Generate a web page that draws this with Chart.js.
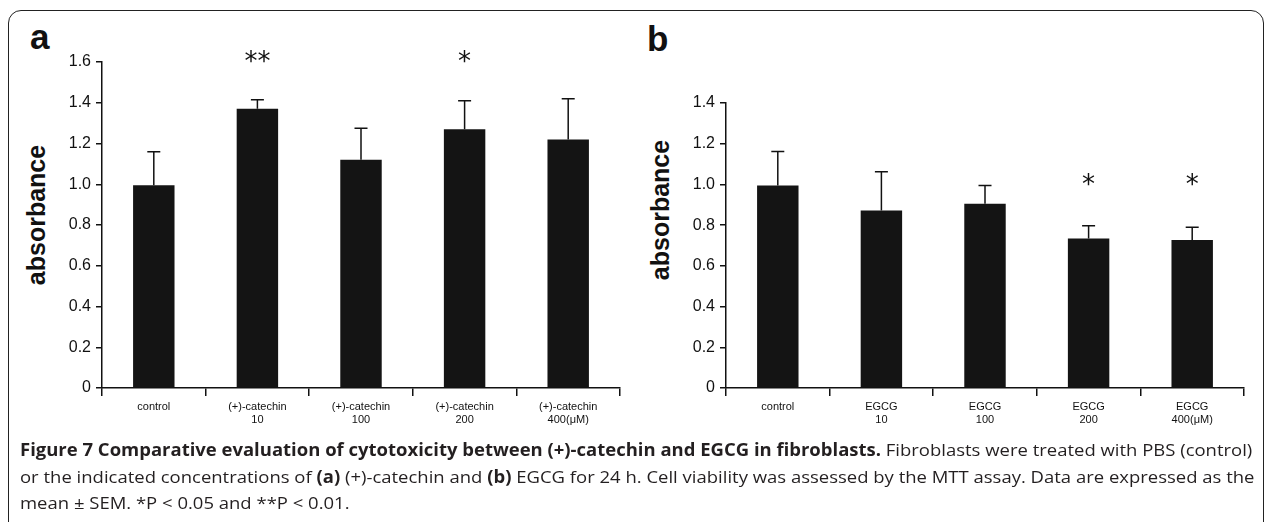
<!DOCTYPE html>
<html lang="en">
<head>
  <meta charset="UTF-8" />
  <title>Figure 7</title>
  <script src="https://cdn.jsdelivr.net/npm/chart.js@4.4.1/dist/chart.umd.min.js"></script>
  <style>
    body { margin: 0; background: #fff; width: 1265px; height: 522px; overflow: hidden; position: relative; }
    .frame {
      position: absolute; left: 8px; top: 10px; width: 1256px; height: 560px;
      border: 1.5px solid #222; border-radius: 13px; box-sizing: border-box;
    }
    .panel { position: absolute; top: 0; height: 440px; }
    #panel-a { left: 0; width: 632px; }
    #panel-b { left: 630px; width: 635px; }
    .letter {
      position: absolute; font: bold 35px "Liberation Sans", Arial, sans-serif; color: #111;
    }
    .ytitle {
      position: absolute; font: bold 25px "Liberation Sans", Arial, sans-serif; color: #111;
      transform: rotate(-90deg); transform-origin: center; white-space: nowrap;
      width: 160px; text-align: center; height: 30px; line-height: 30px;
    }
    .caption {
      position: absolute; left: 20px; top: 437px; font-family: "Open Sans", sans-serif;
      font-size: 17px; line-height: 26.5px; color: #231f20; white-space: nowrap;
    }
    .caption div { transform-origin: left center; }
    .caption b { font-weight: bold; }
  </style>
</head>
<body>
  <div class="frame"></div>
  <div class="letter" style="left:30px; top:17px;">a</div>
  <div class="letter" style="left:647px; top:19px;">b</div>
  <div class="ytitle" style="left:-44px; top:200px;">absorbance</div>
  <div class="ytitle" style="left:580px; top:195px;">absorbance</div>

  <div class="panel" id="panel-a"><canvas id="chart-a"></canvas></div>
  <div class="panel" id="panel-b"><canvas id="chart-b"></canvas></div>

  <div class="caption" id="caption">
    <div><b>Figure 7 Comparative evaluation of cytotoxicity between (+)-catechin and EGCG in fibroblasts.</b> Fibroblasts were treated with PBS (control)</div>
    <div>or the indicated concentrations of <b>(a)</b> (+)-catechin and <b>(b)</b> EGCG for 24 h. Cell viability was assessed by the MTT assay. Data are expressed as the</div>
    <div>mean ± SEM. *P &lt; 0.05 and **P &lt; 0.01.</div>
  </div>

  <script>
    // panel a: (+)-catechin
    var labelsA = [["control"], ["(+)-catechin", "10"], ["(+)-catechin", "100"], ["(+)-catechin", "200"], ["(+)-catechin", "400(μM)"]];
    var meansA = [0.995, 1.37, 1.12, 1.27, 1.22];
    var semA = [0.165, 0.045, 0.155, 0.14, 0.20];
    var starsA = ["", "**", "", "*", ""];
    var starLevelA = 1.625;

    // panel b: EGCG
    var labelsB = [["control"], ["EGCG", "10"], ["EGCG", "100"], ["EGCG", "200"], ["EGCG", "400(μM)"]];
    var meansB = [0.995, 0.872, 0.905, 0.735, 0.727];
    var semB = [0.167, 0.19, 0.09, 0.062, 0.063];
    var starsB = ["", "", "", "*", "*"];
    var starLevelB = 1.02;

    // one-sided error bars plus significance stars, drawn through the scales
    var extrasPlugin = {
      id: "extras",
      afterDatasetsDraw: function (chart, args, opts) {
        var ctx = chart.ctx;
        var x = chart.scales.x, y = chart.scales.y;
        ctx.save();
        ctx.strokeStyle = "#111";
        ctx.lineWidth = 1.5;
        opts.means.forEach(function (m, i) {
          var px = x.getPixelForValue(i);
          var top = y.getPixelForValue(m);
          var end = y.getPixelForValue(m + opts.sem[i]);
          ctx.beginPath();
          ctx.moveTo(px, top);
          ctx.lineTo(px, end);
          ctx.moveTo(px - 6.5, end);
          ctx.lineTo(px + 6.5, end);
          ctx.stroke();
        });
        ctx.fillStyle = "#111";
        ctx.font = "26px 'DejaVu Sans'";
        ctx.textAlign = "center";
        ctx.textBaseline = "middle";
        opts.stars.forEach(function (s, i) {
          if (!s) return;
          ctx.fillText(s, x.getPixelForValue(i), y.getPixelForValue(opts.starLevel) + 6);
        });
        ctx.restore();
      }
    };

    function makeChart(id, labels, means, sem, stars, starLevel, yMax, pad, yWidth) {
      var ctx = document.getElementById(id).getContext("2d");
      return new Chart(ctx, {
        type: "bar",
        data: {
          labels: labels,
          datasets: [{
            data: means,
            backgroundColor: "#141414",
            borderWidth: 0,
            barPercentage: 0.4,
            categoryPercentage: 1.0
          }]
        },
        options: {
          responsive: true,
          maintainAspectRatio: false,
          animation: false,
          layout: { padding: pad },
          plugins: {
            legend: { display: false },
            tooltip: { enabled: false },
            extras: { means: means, sem: sem, stars: stars, starLevel: starLevel }
          },
          scales: {
            x: {
              offset: true,
              grid: { offset: true, drawOnChartArea: false, drawTicks: true, tickLength: 8, color: "#111", lineWidth: 1.5 },
              border: { color: "#111", width: 1.5 },
              ticks: { color: "#111", font: { family: "'Liberation Sans', Arial", size: 11 }, padding: 4, maxRotation: 0, autoSkip: false },
              afterFit: function (s) { s.height = 52; }
            },
            y: {
              min: 0,
              max: yMax,
              grid: { drawOnChartArea: false, drawTicks: true, tickLength: 6, color: "#111", lineWidth: 1.5 },
              border: { color: "#111", width: 1.5 },
              ticks: {
                stepSize: 0.2,
                color: "#111",
                padding: 5,
                font: { family: "'Liberation Sans', Arial", size: 16 },
                callback: function (v) { return v === 0 ? "0" : v.toFixed(1); }
              },
              afterFit: function (s) { s.width = yWidth; }
            }
          }
        },
        plugins: [extrasPlugin]
      });
    }

    makeChart("chart-a", labelsA, meansA, semA, starsA, starLevelA, 1.6, { left: 0, right: 12, top: 62, bottom: 0 }, 102);
    makeChart("chart-b", labelsB, meansB, semB, starsB, starLevelB, 1.4, { left: 0, right: 21, top: 103, bottom: 0 }, 96);

    // squeeze caption lines to the condensed width of the original
    var lines = document.querySelectorAll("#caption div");
    var scale = 1235 / lines[0].scrollWidth;
    lines.forEach(function (l) { l.style.transform = "scaleX(" + scale + ")"; });
  </script>
</body>
</html>
